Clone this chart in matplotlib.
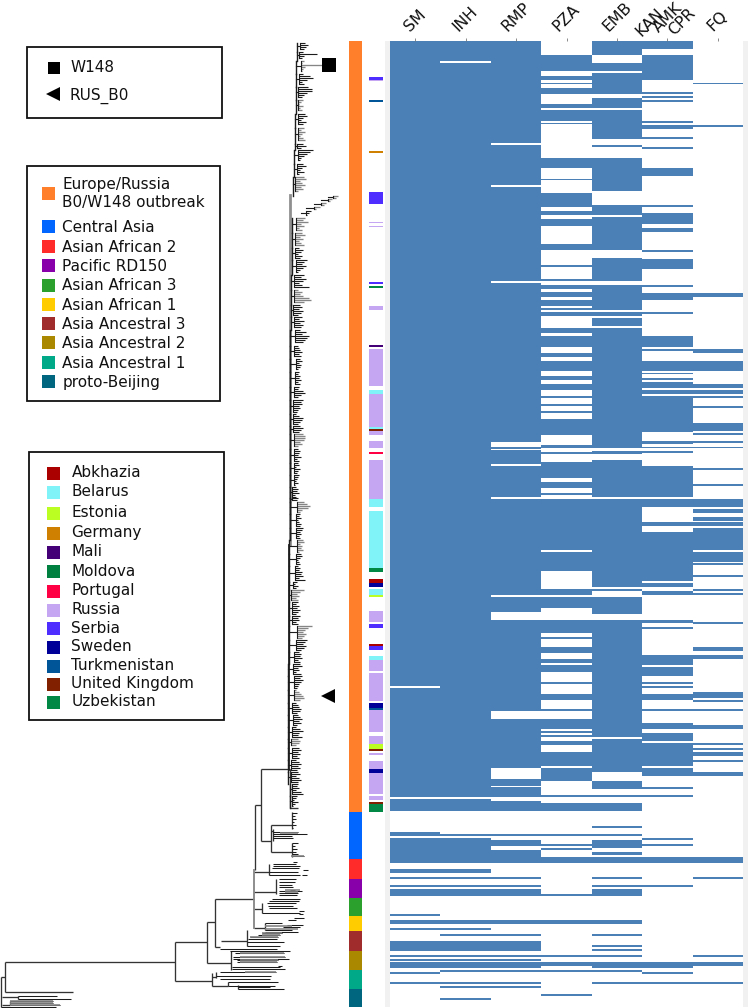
import matplotlib
matplotlib.use("Agg")
import matplotlib.pyplot as plt
from matplotlib.patches import Rectangle
import numpy as np

W, H = 748, 1008

# drug panel: filled (resistant) stretches per column, read as rows of the tree
drugs = ["SM", "INH", "RMP", "PZA", "EMB", "", "FQ"]
combo_labels = ["KAN", "AMK", "CPR"]
combo_x = [650, 668, 682]
combo_y = [22, 18, 22]

sm_rows = [(41, 686), (688, 797), (799, 811), (832.3, 835.7), (838, 863), (869, 873), (877, 879), (884.7, 886.7),
           (888.7, 896.3), (914, 916), (920, 923.7), (927.7, 929.7), (941.3, 951), (954.7, 956.7), (958.7, 960.7),
           (962.3, 968.3), (972.3, 974.3), (982, 984)]
inh_rows = [(41, 61), (62.7, 797), (799, 811), (834, 836), (838, 849.7), (849.7, 863), (869, 873), (877, 879),
            (884.7, 886.7), (888.7, 896.3), (920, 923.7), (927.7, 929.7), (933.7, 935.7), (941.3, 951),
            (954.7, 956.7), (958.7, 960.7), (962.3, 968.3), (970.3, 972.3), (982, 984), (986, 988), (997.7, 999.7)]
rmp_rows = [(41, 143), (144.7, 185.3), (187.3, 281), (282.7, 442.3), (446.7, 448.7), (450.3, 464), (465.7, 497),
            (499, 594.7), (596.7, 611.7), (619.7, 711), (719, 767.7), (779.3, 785.7), (787.3, 797), (801, 811),
            (834, 836), (840, 845.7), (849.7, 863), (877, 879), (884.7, 886.7), (888.7, 896.3), (920, 923.7),
            (933.7, 935.7), (941.3, 951), (954.7, 956.7), (958.7, 960.7), (962.3, 968.3), (970.3, 972.3),
            (982, 984), (986, 988)]
pza_rows = [(55, 71), (76.3, 80.3), (82.7, 83.7), (88, 94), (103.7, 107.7), (109.7, 121.3), (122.5, 123.5),
            (158.3, 168), (179.3, 180.3), (193.3, 206.7), (211, 214.7), (218.7, 226.3), (244, 250), (265.3, 267),
            (279, 281), (285, 289), (292.3, 296.7), (300.3, 306), (308.3, 310), (312, 316), (327.7, 333.3),
            (335.7, 347.3), (353, 357), (361, 370.7), (376.3, 380.3), (384.3, 390), (395.7, 397.7), (403.7, 405.7),
            (411.3, 413.3), (419.3, 434.7), (444.7, 448.3), (452.3, 454.3), (462, 478), (481.7, 487.7), (493, 495.3),
            (499, 550), (551.7, 571), (588.7, 594.7), (596.7, 608.3), (620, 633.3), (637.3, 639.3), (647, 653),
            (658.7, 662.7), (664.7, 672.3), (682, 684), (694, 699.7), (709.3, 711.3), (719, 729), (731, 733),
            (735, 737), (740.7, 744.7), (752.3, 766), (767.7, 781.3), (795, 796.7), (803, 810.7), (834, 836),
            (843.7, 845.7), (847.7, 849.7), (857.3, 863), (894.3, 896.3), (920, 923.7), (954.7, 956.7),
            (962.3, 966.3), (970.3, 972.3), (993.7, 995.7)]
emb_rows = [(41, 55), (63.3, 71), (72.7, 94), (98, 107.7), (109.7, 138.7), (144.7, 146.7), (158.3, 191.3),
            (205.3, 214.7), (216.7, 250), (257.7, 281), (285, 310), (312, 316), (318, 325.7), (327.7, 448.3),
            (450.7, 454.3), (460, 497), (499, 586.7), (588.7, 590.7), (596.7, 614), (620, 736.7), (739, 771.7),
            (781.3, 789.3), (795, 796.7), (803, 810.7), (826.3, 828.3), (834, 836), (840, 847.7), (851.7, 855.3),
            (857.3, 863), (877, 879), (884.7, 886.7), (888.7, 896.3), (920, 923.7), (933.7, 935.7), (945, 947),
            (949, 951), (954.7, 956.7), (962.3, 968.3), (970.3, 972.3), (982, 984)]
combo_rows = [(41, 49.3), (55, 80.3), (92, 94), (96, 98), (100, 101.7), (121.3, 123.3), (125.3, 129), (137, 138.7),
              (146.7, 148.7), (168, 175.7), (205, 207), (212.7, 224.3), (228.3, 232), (250, 251.7), (258.7, 269),
              (285, 287), (292.7, 300.3), (312, 314), (335.7, 347.3), (349.3, 351.3), (361, 370.7), (372.7, 374.3),
              (378.3, 380.3), (382.3, 388), (390, 394), (396, 431.7), (440.7, 444.3), (446.7, 448.3), (450.7, 452.7),
              (466, 497), (499, 506.7), (522.3, 526), (532.3, 580.7), (582.7, 586.7), (590.7, 594.7), (620, 622.7),
              (627.3, 629.3), (655, 664.7), (666.7, 676.3), (682, 684), (686, 688), (694, 699.7), (709.3, 711.3),
              (723, 729), (733, 740.7), (742.7, 766), (767.7, 775.7), (787.3, 789.3), (795, 796.7), (838, 840),
              (843.7, 845.7), (857.3, 863), (884.7, 886.7), (962.3, 968.3), (972.3, 974.3), (982, 984)]
fq_rows = [(82.7, 84.3), (125.3, 127), (292.7, 296.7), (349.3, 353.3), (361, 370.7), (384.3, 388), (390, 394),
           (396, 398), (405.7, 407.7), (423.3, 431), (433, 435), (440.7, 442.7), (446.7, 448.3), (468, 470),
           (483.7, 485.7), (499, 506.7), (508.7, 512.7), (516.7, 520.7), (522.3, 526.3), (528.3, 550), (551.7, 561.7),
           (563.3, 565.3), (575, 577), (588.7, 590.7), (592.7, 594.7), (622, 624), (647, 651), (655, 659), (692, 697.7),
           (699.7, 701.7), (709.3, 711.3), (725, 729), (742.7, 744.7), (748.3, 750.3), (752.3, 756.3), (760, 762),
           (771.7, 775.7), (857.3, 863), (877, 879), (954.7, 956.7), (962.3, 966.3), (982, 984)]
drug_rows = [sm_rows, inh_rows, rmp_rows, pza_rows, emb_rows, combo_rows, fq_rows]

# lineage strip
lineage_names = ["Europe/Russia\nB0/W148 outbreak", "Central Asia", "Asian African 2", "Pacific RD150", "Asian African 3",
                 "Asian African 1", "Asia Ancestral 3", "Asia Ancestral 2", "Asia Ancestral 1", "proto-Beijing"]
lineage_colors = ["#ff7f2a", "#0066ff", "#ff2a2a", "#8800aa", "#2ca02c", "#ffcc00", "#a02c2c", "#aa8800", "#00aa88", "#006680"]
lineage_edges = [41, 811.7, 859.3, 878.7, 897.7, 916, 931.3, 950.7, 970, 989.3, 1007.3]

# country strip
country_names = ["Abkhazia", "Belarus", "Estonia", "Germany", "Mali", "Moldova", "Portugal", "Russia", "Serbia",
                 "Sweden", "Turkmenistan", "United Kingdom", "Uzbekistan"]
country_colors = {"Abkhazia": "#aa0000", "Belarus": "#7ff3f8", "Estonia": "#bbff22", "Germany": "#d08000",
                  "Mali": "#440077", "Moldova": "#008040", "Portugal": "#ff0044", "Russia": "#c4a6f2",
                  "Serbia": "#4d2dff", "Sweden": "#000099", "Turkmenistan": "#005599", "United Kingdom": "#802000",
                  "Uzbekistan": "#008844"}
country_spans = [("Serbia", 77, 80), ("Russia", 80, 81), ("Turkmenistan", 100.3, 102.3), ("Germany", 151.3, 153.3),
                 ("Serbia", 192.3, 203.7), ("Russia", 221.7, 223.3), ("Russia", 225.7, 227.3), ("Serbia", 282, 284),
                 ("Uzbekistan", 286, 288), ("Russia", 306, 309.7), ("Mali", 344.7, 346.7), ("Russia", 348.7, 386),
                 ("Belarus", 390, 394), ("Russia", 394, 426.7), ("Belarus", 426.7, 428.7), ("United Kingdom", 428.7, 430.7),
                 ("Russia", 430.7, 434.7), ("Russia", 440.7, 448.3), ("Portugal", 452.3, 454.3), ("Russia", 460, 499),
                 ("Belarus", 499, 506.7), ("Belarus", 510.7, 567.7), ("Uzbekistan", 567.7, 571.7), ("Abkhazia", 579.3, 582.7),
                 ("Sweden", 583.3, 587.3), ("Belarus", 589.3, 594.7), ("Estonia", 594.7, 596.7), ("Russia", 610.7, 622),
                 ("Serbia", 624.3, 628.3), ("Abkhazia", 644, 646), ("Serbia", 646, 649.7), ("Belarus", 656, 660),
                 ("Russia", 660, 671.3), ("Russia", 673.3, 700.7), ("Sweden", 702.7, 708.3), ("Turkmenistan", 708.3, 710.3),
                 ("Russia", 710.3, 731.7), ("Russia", 735.7, 744), ("Estonia", 744, 749), ("United Kingdom", 749, 751.3),
                 ("Russia", 753.3, 755.3), ("Russia", 761, 769), ("Sweden", 769, 773), ("Russia", 773, 794.3),
                 ("Russia", 796.3, 800), ("United Kingdom", 802, 804), ("Uzbekistan", 804, 812)]

# tree, deep branches: horizontal (y, x0, x1) and vertical (x, y0, y1)
deep_h = [(961.7, 5.3, 175.3), (942, 175.3, 206.7), (981.3, 175.3, 212), (922, 206.7, 214.7), (962.7, 206.7, 230.7),
          (898.7, 214.7, 254), (946.7, 214.7, 220), (805.3, 255.3, 261.3), (769.3, 261.3, 290), (841.3, 261.3, 270.7),
          (825, 270.7, 291.7), (851.7, 270.7, 291.7), (871.7, 254, 269.3), (892, 254, 276), (909, 254, 261.7),
          (928.3, 254, 264.7), (940.7, 220.7, 246.7), (976.7, 1, 5.3), (992.3, 5.3, 72.7), (997, 2, 18), (1004.5, 2, 10),
          (808.3, 290, 298), (831, 270.7, 273.3), (986, 212, 227.7), (976.7, 212, 216)]
deep_v = [(5.3, 961.7, 992.3), (175.3, 942, 981.3), (206.7, 922, 962.7), (214.7, 898.7, 946.7), (255.3, 805, 870),
          (261.3, 769.3, 841.3), (270.7, 825, 851.7), (291.7, 811.7, 829.3), (291.7, 842.7, 857.3), (269.3, 864, 875.3),
          (276, 879, 894), (261.7, 903.3, 913.3), (264.7, 922.7, 930), (246.7, 930, 946), (230.7, 951, 970),
          (212, 973, 986), (1.5, 976.7, 1006.7), (18, 995.5, 998.7), (10, 1001.3, 1005.3), (290, 769, 808.3),
          (273.3, 829, 841), (227.7, 982.3, 986), (238, 985, 989), (216, 972, 978)]
deep_grey_v = [(254, 870, 928)]

# low clades tips: (y, stem x, tip x)
low_tips = [(813, 291.7, 297), (816, 291.7, 295), (819, 291.7, 296), (822, 291.7, 294), (825, 291.7, 296), (828, 291.7, 293),
            (831.7, 273.3, 298), (833.7, 273.3, 307), (835.7, 273.3, 292), (837.7, 273.3, 293), (843, 291.7, 298), (846, 291.7, 295),
            (849, 291.7, 297), (852, 291.7, 296), (854, 291.7, 298), (856, 291.7, 304),
            (862, 293, 297), (864, 273, 296), (866, 273, 300), (868, 272, 299), (870, 303, 308), (871.7, 269.3, 298), (875.3, 269.3, 300),
            (875, 302, 307), (879, 279, 296), (882, 279, 295), (885, 279, 292), (887, 279, 293), (890, 290, 295), (891, 279, 302),
            (893, 279, 298), (894.5, 279, 297), (899.3, 272, 300), (901, 269, 299), (903.3, 267, 296), (906, 268, 293), (908, 269, 297),
            (913.3, 261.7, 300), (911, 299, 304), (914, 299, 303), (917.5, 294, 304), (920, 288, 296), (922.7, 264.7, 282),
            (925, 287, 303), (927, 283, 300), (930, 264.7, 292), (931.5, 265, 298),
            (932.7, 261.7, 281.7), (934.5, 258, 280), (936.7, 250, 278), (939.3, 248, 277), (942.3, 246.7, 284), (945.7, 246.7, 280),
            (949, 220, 276.7), (951, 230, 290), (953.3, 235, 284), (956.5, 232.7, 285), (958.5, 233, 289), (960, 237, 278), (962, 237, 277),
            (966.7, 231.7, 280), (965.5, 278, 282), (969.3, 231.7, 285), (971.7, 220, 276), (976, 216, 270.7), (978.7, 220, 270),
            (982.3, 227.7, 278), (985.7, 227.7, 275), (989, 238, 283.7), (987.3, 238, 270),
            (995.5, 18, 56.7), (998.7, 18, 70.7), (1001.3, 10, 53), (1003.3, 10, 52.7), (1005.3, 10, 60), (1006.7, 1.5, 56)]
low_grey = [(832.7, 280, 298), (856, 291, 304), (889.5, 285, 300), (891.5, 285, 298), (932.7, 262, 281.7), (934.5, 262, 280),
            (936.7, 250, 278), (953.3, 240, 284), (956.5, 240, 285), (960, 240, 278), (962, 240, 277), (971.7, 245, 276),
            (1001.3, 10, 53), (1003.3, 10, 52.7), (1005.3, 10, 60), (926, 265, 292), (928.5, 265, 298)]

# tree, upper part: clade top row, trunk x, stem x, tip x
twig_top = [43, 52, 61, 74, 87, 100, 114, 128, 144, 150, 164, 177, 196, 199, 203, 207, 211, 218, 233, 248, 260, 275, 290, 305,
            317, 330, 346, 359, 372, 387, 400, 414, 426, 434, 449, 463, 475, 487, 498, 502, 514, 528, 540, 554, 566, 582, 590,
            602, 616, 626, 640, 652, 664, 676, 690, 703, 715, 727, 739, 748, 760, 772, 784, 796]
twig_trunk = [297, 297, 296, 296, 296, 296, 295, 295, 295, 294, 294, 293, 328, 321, 314, 306, 301, 292, 292, 292, 292, 291, 291, 291,
              291, 290, 290, 290, 290, 290, 290, 290, 290, 290, 290, 290, 290, 290, 290, 290, 290, 290, 289, 289, 289, 289, 289,
              289, 289, 289, 289, 289, 288, 288, 288, 288, 288, 288, 288, 288, 288, 288, 290, 290]
twig_stem = [300, 299, 301, 299, 298, 298, 298, 298, 297, 298, 297, 295, 333, 328, 321, 314, 306, 296, 295, 295, 296, 294, 294, 293,
             294, 295, 294, 296, 295, 294, 293, 293, 293, 294, 294, 294, 294, 292, 292, 297, 296, 296, 297, 296, 295, 293, 291,
             292, 292, 297, 296, 294, 293, 294, 294, 292, 293, 292, 291, 292, 291, 291, 292, 292]
twig_tips = [[305, 308, 306, 304], [303, 317, 304, 302], [304, 302, 322, 305, 303, 302], [303, 310, 313, 307, 302, 304],
             [308, 312, 312, 307, 304, 302], [303, 301, 299, 303, 300, 302], [305, 307, 303, 301, 306, 303],
             [304, 301, 305, 302, 300, 303, 305], [303, 306, 301], [313, 310, 307, 304, 301, 300], [303, 306, 302, 300, 304, 299],
             [304, 306, 300, 302, 305, 301, 303, 298], [338, 336], [332, 330], [326, 324], [320, 316], [311, 309, 307],
             [305, 303, 308, 301, 304, 299, 302], [302, 305, 300, 303, 299, 301, 304], [299, 303, 301, 298, 302, 300],
             [307, 304, 302, 306, 303, 300, 298], [304, 301, 306, 303, 299, 302, 309], [298, 302, 300, 303, 309, 311, 304],
             [300, 302, 299, 303, 301, 298], [302, 299, 304, 300, 303, 301], [300, 306, 302, 309, 307, 305, 303],
             [298, 299, 300, 302, 299, 301], [300, 302, 299, 301, 300, 298], [299, 298, 300, 299, 301, 298, 300],
             [299, 298, 303, 305, 301, 298], [303, 301, 302, 299, 300, 298, 297], [296, 299, 303, 302, 300, 298], [300, 303, 301, 299],
             [303, 305, 305, 304, 300, 302, 298], [298, 300, 299, 298, 301, 297, 299], [298, 299, 296, 300, 298, 297],
             [299, 298, 297, 296, 298, 295], [296, 298, 297, 299, 295, 296], [298, 297], [304, 307, 310, 308, 302, 300],
             [300, 299, 301, 298, 299, 301, 300], [303, 302, 300, 301, 299, 300], [303, 304, 300, 302, 301, 303, 299],
             [301, 302, 300, 298, 299, 300], [298, 300, 299, 302, 301, 303, 299, 305], [297, 295, 298, 296],
             [304, 300, 297, 299, 296, 298], [298, 296, 299, 297, 300, 298, 296], [300, 298, 299, 296, 298],
             [312, 308, 305, 303, 306, 304, 302], [307, 305, 303, 306, 304, 301], [299, 301, 300, 302, 298, 300],
             [300, 302, 298, 299, 296, 301], [302, 300, 303, 301, 299, 298, 297], [296, 299, 301, 303, 304, 300],
             [296, 298, 299, 301, 300, 297], [298, 300, 302, 299, 301, 297], [296, 300, 303, 299, 298, 302], [298, 300, 299, 296],
             [299, 301, 298, 300, 297, 299], [296, 299, 301, 298, 300, 297], [298, 300, 296, 299, 301, 298],
             [298, 297, 299, 296, 301, 303], [297, 296, 294, 298, 295, 293]]
twig_grey = [2, 5, 7, 11, 12, 13, 14, 15, 17, 18, 22, 33, 39, 42, 46, 49, 54, 58]

fig = plt.figure(figsize=(W / 100, H / 100), dpi=100, facecolor="white")

# base axes in reference pixels, for tree, strips and legends
ax = fig.add_axes([0, 0, 1, 1])
ax.set_xlim(0, W)
ax.set_ylim(H, 0)
ax.axis("off")

dark = "#1c1c1c"
grey = "#858585"
for y, x0, x1 in deep_h:
    ax.plot([x0, x1], [y, y], color="#333333", lw=0.95, solid_capstyle="butt")
for x, y0, y1 in deep_v:
    ax.plot([x, x], [y0, y1], color="#333333", lw=0.95, solid_capstyle="butt")
for x, y0, y1 in deep_grey_v:
    ax.plot([x, x], [y0, y1], color=grey, lw=1.3)
for y, x0, x1 in low_tips:
    ax.plot([x0, x1], [y, y], color=dark, lw=0.75, solid_capstyle="butt")
for y, x0, x1 in low_grey:
    ax.plot([x0, x1], [y, y], color=grey, lw=1.2, solid_capstyle="butt")

ax.plot([290, 290], [195, 545], color="#8f8f8f", lw=2.0)
ax.plot([289, 289], [545, 770], color="#222222", lw=1.3)
next_top = twig_top[1:] + [808]
for i in range(len(twig_top)):
    top, trunk, stem, tips = twig_top[i], twig_trunk[i], twig_stem[i], twig_tips[i]
    rows = top + np.arange(len(tips)) * 2.0
    col = grey if i in twig_grey else dark
    for r, t in zip(rows, tips):
        ax.plot([stem, t], [r, r], color=col, lw=0.95 if i in twig_grey else 0.8, solid_capstyle="butt")
    ax.plot([stem, stem], [rows[0], rows[-1]], color=dark, lw=0.8)
    ax.plot([trunk, stem], [rows.mean(), rows.mean()], color=dark, lw=0.8)
    if trunk < 300:
        ax.plot([trunk, trunk], [top, next_top[i]], color=dark, lw=1.0)

# tree markers
ax.plot(329, 65, marker="s", ms=10.2, color="black", mew=0)
ax.plot(328, 696, marker="<", ms=10.5, color="black", mew=0)

# lineage strip
for i, col in enumerate(lineage_colors):
    ax.add_patch(Rectangle((349, lineage_edges[i]), 13, lineage_edges[i + 1] - lineage_edges[i], fc=col, lw=0))

# country strip
for name, y0, y1 in country_spans:
    ax.add_patch(Rectangle((369.3, y0), 13.4, y1 - y0, fc=country_colors[name], lw=0))

# pale stripes beside the drug panel
ax.add_patch(Rectangle((385.5, 41), 4.5, 966, fc="#f1f1f1", lw=0))
ax.add_patch(Rectangle((743, 41), 5, 966, fc="#f1f1f1", lw=0))

# drug panel
hx = fig.add_axes([390 / W, 0, 353 / W, 1 - 41 / H])
hx.set_xlim(0, len(drugs))
hx.set_ylim(H, 41)
hx.patch.set_alpha(0)
for s in hx.spines.values():
    s.set_visible(False)
for i, rows in enumerate(drug_rows):
    starts = [a for a, b in rows]
    sizes = [b - a for a, b in rows]
    hx.bar([i + 0.5] * len(rows), sizes, bottom=starts, width=1.0, color="#4a80b6", linewidth=0)
hx.set_yticks([])
hx.xaxis.tick_top()
hx.set_xticks(np.arange(len(drugs)) + 0.5)
hx.set_xticklabels(drugs, rotation=45, ha="center", va="bottom", fontsize=11.3, color="#111111")
hx.tick_params(axis="x", length=2, width=0.6, color="#777777", pad=3)
for lab, x, y in zip(combo_labels, combo_x, combo_y):
    ax.text(x, y, lab, rotation=45, ha="center", va="center", fontsize=11.3, color="#111111")

# legends
for (x0, y0, x1, y1) in [(26.7, 47.3, 222.3, 117.7), (27.3, 166, 220, 400.7), (29, 451.7, 224, 720)]:
    ax.add_patch(Rectangle((x0, y0), x1 - x0, y1 - y0, fc="white", ec="#111111", lw=1.3, zorder=3))

txt = dict(fontsize=11, color="#111111", va="center", zorder=4)
ax.plot(54.2, 67.8, marker="s", ms=9.2, color="black", mew=0, zorder=4)
ax.plot(53.3, 94.3, marker="<", ms=9.5, color="black", mew=0, zorder=4)
ax.text(70.5, 67.8, "W148", **txt)
ax.text(69.8, 95.8, "RUS_B0", **txt)

lineage_y = [193.7, 226, 246.3, 265.7, 285, 304.3, 323.7, 342.7, 362, 381]
for name, col, y in zip(lineage_names, lineage_colors, lineage_y):
    ax.add_patch(Rectangle((41.7, y - 6.5), 13, 13, fc=col, lw=0, zorder=4))
    ax.text(62.5, y + (0 if "\n" in name else 1), name, linespacing=1.25, **txt)

country_y = [473.3, 492.3, 513, 533, 552, 571.7, 591, 610, 628.7, 647, 666, 684.3, 702]
for name, y in zip(country_names, country_y):
    ax.add_patch(Rectangle((46.7, y - 6.5), 13.3, 13, fc=country_colors[name], lw=0, zorder=4))
    ax.text(71.5, y - 0.5, name, **txt)

fig.savefig("out.png", dpi=100)
